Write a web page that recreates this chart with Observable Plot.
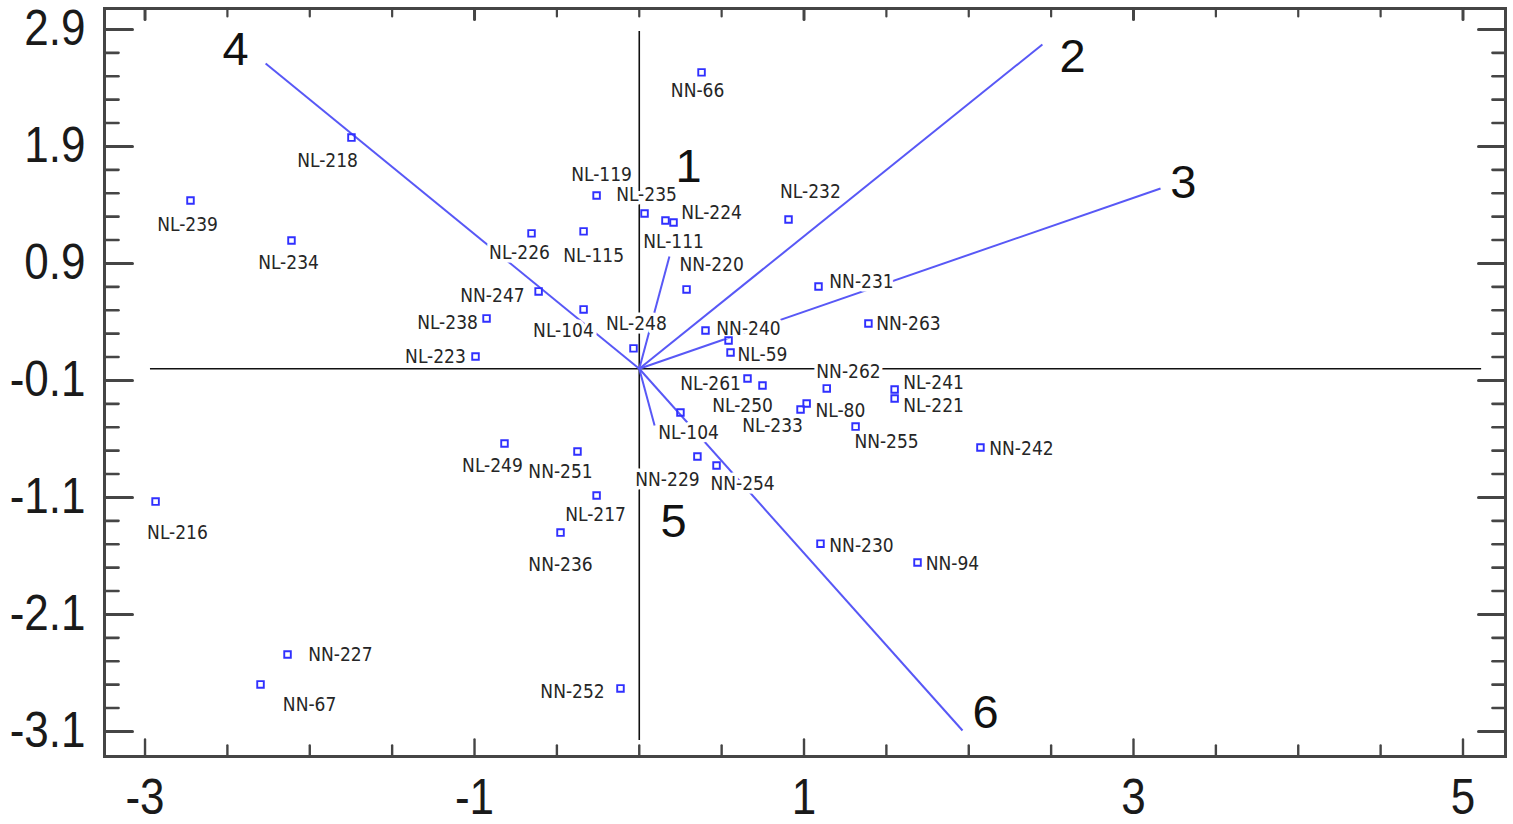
<!DOCTYPE html>
<html>
<head>
<meta charset="utf-8">
<script src="https://cdn.jsdelivr.net/npm/d3@7"></script>
<script src="https://cdn.jsdelivr.net/npm/@observablehq/plot@0.6"></script>
<style>
  html, body { margin: 0; padding: 0; background: #ffffff; }
</style>
</head>
<body>
<div id="chart"></div>
<script>
// ---- data ----
const sampleNames = ["NN-66","NL-218","NL-239","NL-234","NL-119","NL-235","NL-224","NL-111","NL-226","NL-115",
  "NN-220","NL-232","NN-231","NN-263","NN-247","NL-238","NL-104","NL-248","NL-223","NN-240",
  "NL-59","","NN-262","NL-241","NL-221","NL-261","NL-250","NL-233","NL-80","NN-255",
  "NN-242","NL-104","NN-229","NN-254","NL-249","NN-251","NL-217","NN-236","NL-216","NN-230",
  "NN-94","NN-227","NN-67","NN-252"];
const sampleX = [0.378,-1.747,-2.724,-2.111,-0.259,0.032,0.159,0.208,-0.654,-0.338,
  0.287,0.906,1.088,1.391,-0.611,-0.927,-0.338,-0.035,-0.994,0.402,
  0.554,0.542,1.138,1.550,1.550,0.657,0.748,0.979,1.016,1.313,
  2.071,0.250,0.353,0.469,-0.818,-0.375,-0.259,-0.478,-2.936,1.100,
  1.689,-2.135,-2.299,-0.114];
const sampleY = [2.533,1.976,1.438,1.096,1.481,1.327,1.267,1.250,1.157,1.174,
  0.678,1.276,0.703,0.387,0.661,0.430,0.507,0.174,0.105,0.327,
  0.139,0.242,-0.168,-0.177,-0.254,-0.083,-0.143,-0.348,-0.297,-0.494,
  -0.673,-0.374,-0.750,-0.827,-0.639,-0.707,-1.083,-1.400,-1.135,-1.495,
  -1.656,-2.442,-2.698,-2.732];
// label anchor positions (data units), as placed in the reference
const labelX = [0.354,-1.892,-2.742,-2.129,-0.229,0.044,0.439,0.208,-0.727,-0.277,
  0.439,1.039,1.349,1.634,-0.891,-1.164,-0.460,-0.017,-1.237,0.663,
  0.748,0.542,1.270,1.786,1.786,0.433,0.627,0.809,1.221,1.501,
  2.320,0.299,0.171,0.627,-0.891,-0.478,-0.265,-0.478,-2.803,1.349,
  1.901,-1.814,-2.001,-0.405];
const labelY = [2.378,1.780,1.233,0.908,1.661,1.490,1.336,1.088,0.994,0.968,
  0.891,1.515,0.746,0.387,0.626,0.396,0.327,0.387,0.105,0.344,
  0.122,0.242,-0.023,-0.118,-0.314,-0.126,-0.314,-0.485,-0.357,-0.622,
  -0.682,-0.545,-0.947,-0.981,-0.827,-0.878,-1.245,-1.673,-1.400,-1.512,
  -1.664,-2.442,-2.877,-2.758];

const vectorNames = ["1","2","3","4","5","6"];
const vectorX = [0.183, 2.447, 3.164, -2.268, 0.093, 1.962];
const vectorY = [0.960, 2.772, 1.541, 2.609, -0.485, -3.092];
const vectorLabelX = [0.299, 2.630, 3.303, -2.451, 0.208, 2.102];
const vectorLabelY = [1.729, 2.661, 1.584, 2.721, -1.313, -2.945];

const xTickLabels = [-3, -1, 1, 3, 5];
const yTickLabels = [2.9, 1.9, 0.9, -0.1, -1.1, -2.1, -3.1];
const xMinorTicks = [-3,-2.5,-2,-1.5,-1,-0.5,0,0.5,1,1.5,2,2.5,3,3.5,4,4.5,5];
const yMinorTicks = d3.range(0, 31).map(i => +(-3.1 + 0.2 * i).toFixed(1));

const hAxisLine = [-2.967, 5.113];  // extent of the y=0 reference line
const vAxisLine = [-3.177, 2.883];  // extent of the x=0 reference line

// ---- build tables ----
const samples = sampleNames.map((name, i) => ({name, x: sampleX[i], y: sampleY[i], lx: labelX[i], ly: labelY[i]}));
const vectors = vectorNames.map((name, i) => ({name, x: vectorX[i], y: vectorY[i], lx: vectorLabelX[i], ly: vectorLabelY[i]}));

const tickShape = {draw(ctx, l) { ctx.moveTo(0, 0); ctx.lineTo(0, -l); }};
const axisColor = "#454545";
const bigFont = "'Liberation Sans', Arial, sans-serif";
const labelFont = "'DejaVu Sans Condensed', 'DejaVu Sans', Verdana, sans-serif";
const isMajorX = d => xTickLabels.includes(d);
const isMajorY = d => yTickLabels.some(v => Math.abs(v - d) < 1e-6);

const blue = "#5858f6";

const chart = Plot.plot({
  width: 1513,
  height: 824,
  marginLeft: 104,
  marginRight: 8,
  marginTop: 8,
  marginBottom: 68,
  x: {domain: [-3.246, 5.258]},
  y: {domain: [-3.314, 3.079]},
  style: {background: "#ffffff", fontFamily: labelFont},
  marks: [
    // reference cross lines through the origin
    Plot.ruleY([0], {x1: hAxisLine[0], x2: hAxisLine[1], stroke: "#111", strokeWidth: 1.6}),
    Plot.ruleX([0], {y1: vAxisLine[0], y2: vAxisLine[1], stroke: "#111", strokeWidth: 1.6}),
    // variable vectors
    Plot.link(vectors, {x1: 0, y1: 0, x2: "x", y2: "y", stroke: blue, strokeWidth: 2}),
    // sample labels with white background (halo)
    Plot.text(samples.filter(d => d.name), {x: "lx", y: "ly", text: "name", fontSize: 19, fontFamily: labelFont,
      fill: "#262626", stroke: "white", strokeWidth: 7, strokeLinejoin: "round", paintOrder: "stroke", textAnchor: "middle", lineAnchor: "middle"}),
    // sample points (hollow squares)
    Plot.dot(samples, {x: "x", y: "y", symbol: "square", r: 3.7, stroke: "#3030ff", strokeWidth: 1.9, fill: "none"}),
    // vector number labels
    Plot.text(vectors, {x: "lx", y: "ly", text: "name", fontSize: 47, fontFamily: bigFont, fill: "#111",
      textAnchor: "middle", lineAnchor: "middle", ariaLabel: "vector-label"}),
    // frame
    Plot.frame({stroke: axisColor, strokeWidth: 3}),
    // inward ticks: left
    Plot.vector(yMinorTicks, {y: d => d, frameAnchor: "left", rotate: 90, anchor: "start", shape: tickShape,
      length: d => isMajorY(d) ? 28 : 14, stroke: axisColor, strokeWidth: d => isMajorY(d) ? 3 : 2.6}),
    // right
    Plot.vector(yMinorTicks, {y: d => d, frameAnchor: "right", rotate: -90, anchor: "start", shape: tickShape,
      length: d => isMajorY(d) ? 27 : 13, stroke: axisColor, strokeWidth: d => isMajorY(d) ? 3 : 2.6}),
    // bottom
    Plot.vector(xMinorTicks, {x: d => d, frameAnchor: "bottom", rotate: 0, anchor: "start", shape: tickShape,
      length: d => isMajorX(d) ? 17 : 11, stroke: axisColor, strokeWidth: 2.4}),
    // top
    Plot.vector(xMinorTicks, {x: d => d, frameAnchor: "top", rotate: 180, anchor: "start", shape: tickShape,
      length: d => isMajorX(d) ? 11 : 8, stroke: axisColor, strokeWidth: d => isMajorX(d) ? 3 : 2.2}),
    // tick labels
    Plot.axisY({ticks: yTickLabels, tickSize: 0, tickPadding: 19, tickFormat: d => d.toFixed(1),
      fontSize: 50, fontFamily: bigFont, fill: "#1a1a1a", label: null}),
    Plot.axisX({ticks: xTickLabels, tickSize: 0, tickPadding: 22, tickFormat: d => String(d),
      fontSize: 50, fontFamily: bigFont, fill: "#1a1a1a", label: null})
  ]
});

// the reference uses a condensed face for the large numerals: narrow them horizontally
const narrowText = (sel, sx) => chart.querySelectorAll(sel).forEach(t => {
  const tr = t.getAttribute("transform") || "";
  t.setAttribute("transform", tr + ` scale(${sx},1)`);
});
narrowText('g[aria-label="y-axis tick label"] text', 0.88);
narrowText('g[aria-label="x-axis tick label"] text', 0.88);
narrowText('g[aria-label="vector-label"] text', 0.84);

document.getElementById("chart").appendChild(chart);
</script>
</body>
</html>
